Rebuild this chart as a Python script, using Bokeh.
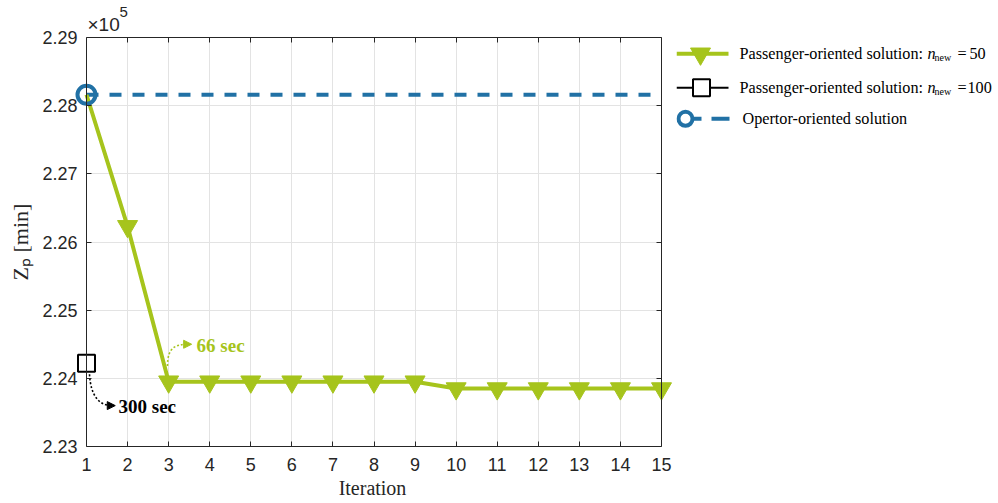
from bokeh.plotting import figure
from bokeh.models import (Range1d, FixedTicker, PrintfTickFormatter, LinearAxis, Label,
                          Arrow, NormalHead, CustomJSTickFormatter, Grid, Title)
from bokeh.layouts import row
from bokeh.core.properties import value
from bokeh.embed import file_html
from bokeh.resources import INLINE

# ---------------- data (Z_p in units of 1e5 min) ----------------
iterations = [1, 2, 3, 4, 5, 6, 7, 8, 9, 10, 11, 12, 13, 14, 15]
zp_n50 = [2.2816, 2.2623, 2.2395, 2.2395, 2.2395, 2.2395, 2.2395, 2.2395, 2.2395,
          2.2385, 2.2385, 2.2385, 2.2385, 2.2385, 2.2385]
iter_n100 = [1]
zp_n100 = [2.2422]
zp_operator = [2.2816] * len(iterations)
x_ticks = iterations
y_ticks = [2.23, 2.24, 2.25, 2.26, 2.27, 2.28, 2.29]
legend_labels = ["Passenger-oriented solution: ", "Passenger-oriented solution: ",
                 "Opertor-oriented solution"]
legend_values = ["50", "100"]

GREEN = "#A6C41C"
BLUE = "#2171A5"
AX = "#262626"
GRID = "#E3E3E3"
SANS = "Liberation Sans"
SERIF = "Liberation Serif"

# pixel layout of the axes box
BOX_W = 575.0
PX_PER_X = BOX_W / 14.0
PAD_L, PAD_R = 14, 11           # room so markers at the box edges are not clipped

p = figure(width=676, height=501,
           x_range=Range1d(1 - PAD_L / PX_PER_X, 15 + PAD_R / PX_PER_X),
           y_range=Range1d(2.23, 2.29),
           output_backend="svg", toolbar_location=None,
           min_border_left=72, min_border_right=4, min_border_top=37, min_border_bottom=55)
p.outline_line_color = None
p.background_fill_color = "white"
p.border_fill_color = "white"

# bottom axis (box bottom edge + tick labels)
xa = p.xaxis[0]
xa.ticker = FixedTicker(ticks=x_ticks)
xa.bounds = (1, 15)
xa.major_tick_in = 5
xa.major_tick_out = 0
xa.minor_tick_line_color = None
xa.axis_line_color = AX
xa.major_tick_line_color = AX
xa.major_label_text_font = SANS
xa.major_label_text_font_size = "18px"
xa.major_label_text_color = AX
xa.major_label_standoff = 11
xa.axis_label = "Iteration"
xa.axis_label_text_font = SERIF
xa.axis_label_text_font_style = "normal"
xa.axis_label_text_font_size = "20px"
xa.axis_label_text_color = AX
xa.axis_label_standoff = 3

# left axis: only tick labels and axis label (box edge drawn by a fixed axis)
ya = p.yaxis[0]
ya.ticker = FixedTicker(ticks=y_ticks)
ya.formatter = PrintfTickFormatter(format="%.2f")
ya.axis_line_color = None
ya.major_tick_line_color = None
ya.minor_tick_line_color = None
ya.major_tick_in = 0
ya.major_tick_out = 0
ya.major_label_text_font = SANS
ya.major_label_text_font_size = "18px"
ya.major_label_text_color = AX
ya.major_label_standoff = -PAD_L + 9
ya.axis_label = "Zₚ [min]"
ya.axis_label_text_font = SERIF
ya.axis_label_text_font_style = "normal"
ya.axis_label_text_font_size = "22px"
ya.axis_label_text_color = AX
ya.axis_label_standoff = 6

blank = CustomJSTickFormatter(code="return ''")


def edge_axis(ticks, **kw):
    return LinearAxis(ticker=FixedTicker(ticks=ticks), formatter=blank, major_tick_in=5,
                      major_tick_out=0, minor_tick_line_color=None, axis_line_color=AX,
                      major_tick_line_color=AX, major_label_standoff=0,
                      major_label_text_font_size="0px", **kw)


p.add_layout(edge_axis(y_ticks, fixed_location=1), "left")
p.add_layout(edge_axis(x_ticks, bounds=(1, 15)), "above")
p.add_layout(edge_axis(y_ticks, fixed_location=15), "right")

# x10^5 multiplier ("×10" with a raised "5")
p.add_layout(Title(text="×10", align="left", offset=PAD_L + 1, text_font=SANS,
                   text_font_size="19px", text_font_style="normal", text_color=AX,
                   text_line_height=1.0, standoff=5), "above")
p.add_layout(Title(text="5", align="left", offset=PAD_L + 33, text_font=SANS,
                   text_font_size="15px", text_font_style="normal", text_color=AX,
                   text_line_height=1.0, standoff=-14), "above")

p.xgrid.grid_line_color = GRID
p.xgrid.ticker = FixedTicker(ticks=x_ticks)
if "cross_bounds" in Grid.properties():
    p.ygrid.grid_line_color = GRID
    p.ygrid.ticker = FixedTicker(ticks=y_ticks)
    p.ygrid.cross_bounds = (1, 15)
else:
    p.ygrid.visible = False
    p.segment(x0=[1] * len(y_ticks), y0=y_ticks, x1=[15] * len(y_ticks), y1=y_ticks,
              line_color=GRID, line_width=1, level="underlay")

# operator-oriented solution
p.line(iterations, zp_operator, line_color=BLUE, line_width=4, line_dash="12 11")

# passenger-oriented n_new = 50
p.line(iterations, zp_n50, line_color=GREEN, line_width=4)
p.scatter(iterations[1:], zp_n50[1:], marker="inverted_triangle", size=20,
          fill_color=GREEN, line_color=GREEN, line_width=1)

# passenger-oriented n_new = 100
p.scatter(iter_n100, zp_n100, marker="square", size=17, fill_color=None,
          line_color="black", line_width=2)

# operator marker at first iteration
p.scatter(iterations[:1], zp_operator[:1], marker="circle", size=18, fill_color=None,
          line_color=BLUE, line_width=4)

# annotations (time labels with dotted curved arrows)
p.bezier(x0=[2.972], y0=[2.2418], x1=[3.50], y1=[2.2450],
         cx0=[2.972], cy0=[2.2445], cx1=[3.15], cy1=[2.2450],
         line_color=GREEN, line_width=1.6, line_dash="2 2")
p.add_layout(Arrow(end=NormalHead(size=8, fill_color=GREEN, line_color=GREEN),
                   x_start=3.45, y_start=2.2450, x_end=3.56, y_end=2.2450,
                   line_alpha=0))
p.add_layout(Label(x=3.68, y=2.2448, text="66 sec", text_font=SERIF, text_font_size="19px",
                   text_font_style="bold", text_color=GREEN, text_baseline="middle"))

p.bezier(x0=[1.073], y0=[2.2406], x1=[1.62], y1=[2.2360],
         cx0=[1.10], cy0=[2.2375], cx1=[1.30], cy1=[2.2360],
         line_color="black", line_width=1.6, line_dash="2 2")
p.add_layout(Arrow(end=NormalHead(size=8, fill_color="black", line_color="black"),
                   x_start=1.58, y_start=2.2360, x_end=1.70, y_end=2.2360,
                   line_alpha=0))
p.add_layout(Label(x=1.78, y=2.2359, text="300 sec", text_font=SERIF, text_font_size="19px",
                   text_font_style="bold", text_color="black", text_baseline="middle"))

# ---------------- legend panel (coordinates = page pixels) ----------------
LEG_X0 = 677
leg = figure(width=320, height=501, x_range=Range1d(LEG_X0, LEG_X0 + 320),
             y_range=Range1d(447, 38),
             output_backend="svg", toolbar_location=None, min_border=0,
             x_axis_type=None, y_axis_type=None)
leg.outline_line_color = None
leg.xgrid.visible = False
leg.ygrid.visible = False

rows_y = [54.3, 88.3, 119.3]
leg.line([677, 729], [rows_y[0]] * 2, line_color=GREEN, line_width=4)
leg.scatter([701], [rows_y[0]], marker="inverted_triangle", size=20,
            fill_color=GREEN, line_color=GREEN)
leg.line([677, 729], [rows_y[1]] * 2, line_color="black", line_width=2)
leg.scatter([702], [rows_y[1]], marker="square", size=17, fill_color="white",
            line_color="black", line_width=2)
leg.line([693, 730], [rows_y[2]] * 2, line_color=BLUE, line_width=4, line_dash="9 10 18 10")
leg.scatter([686], [rows_y[2]], marker="circle", size=14, fill_color="white",
            line_color=BLUE, line_width=4)

leg.text([740, 740, 743], rows_y, text=legend_labels, text_font=value(SERIF),
         text_font_size="16.2px", text_baseline="middle", text_color="black")
leg.text([928, 928], rows_y[:2], text=["n", "n"], text_font=value(SERIF),
         text_font_style="italic", text_font_size="16.2px", text_baseline="middle",
         text_color="black")
leg.text([935, 935], [r + 4 for r in rows_y[:2]], text=["new", "new"],
         text_font=value(SERIF), text_font_size="10px", text_baseline="middle",
         text_color="black")
leg.text([958, 958], rows_y[:2], text=["=", "="], text_font=value(SERIF),
         text_font_size="16.2px", text_baseline="middle", text_color="black")
leg.text([970, 968], rows_y[:2], text=legend_values, text_font=value(SERIF),
         text_font_size="16.2px", text_baseline="middle", text_color="black")

layout = row(p, leg)
open("out.html", "w").write(file_html(layout, INLINE))
